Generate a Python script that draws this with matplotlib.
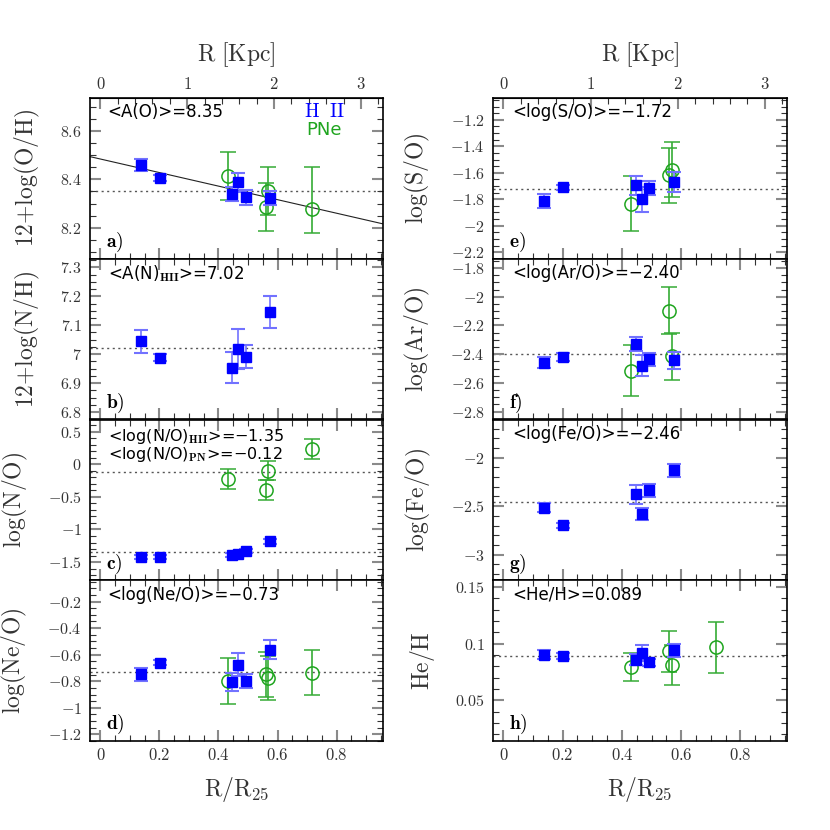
import numpy as np
import matplotlib
matplotlib.use('Agg')
import matplotlib.pyplot as plt
from matplotlib.ticker import MultipleLocator, FixedLocator, FuncFormatter

plt.rcParams['mathtext.fontset'] = 'cm'
plt.rcParams['font.family'] = ['DejaVu Sans']
plt.rcParams['axes.unicode_minus'] = False

# galactocentric distances (R/R25), R25 in kpc for top axis
R25_KPC = 3.4
hii_x = [0.136, 0.202, 0.446, 0.467, 0.493, 0.576]
pn_x = [0.432, 0.560, 0.569, 0.717]
kpc_ticks = [0, 1, 2, 3]

# a) 12+log(O/H)
oh_hii = [8.459, 8.405, 8.339, 8.388, 8.326, 8.322]
oh_hii_err = [0.025, 0.012, 0.03, 0.04, 0.03, 0.03]
oh_pn = [8.415, 8.285, 8.352, 8.277]
oh_pn_lo = [0.1, 0.1, 0.1, 0.1]
oh_pn_hi = [0.1, 0.1, 0.1, 0.175]
oh_fit = [8.484, -0.28]   # intercept, slope

# b) 12+log(N/H)
nh_hii = [7.045, 6.988, 6.953, 7.017, 6.991, 7.147]
nh_hii_err = [0.04, 0.012, 0.053, 0.07, 0.04, 0.055]

# c) log(N/O)
no_hii = [-1.417, -1.417, -1.386, -1.376, -1.335, -1.18]
no_hii_err = [0.03, 0.03, 0.03, 0.03, 0.03, 0.04]
no_pn = [-0.223, -0.393, -0.094, 0.235]
no_pn_err = [0.15, 0.15, 0.15, 0.155]

# d) log(Ne/O)
neo_hii = [-0.748, -0.66, -0.805, -0.675, -0.798, -0.563]
neo_hii_err = [0.05, 0.02, 0.065, 0.087, 0.05, 0.07]
neo_pn = [-0.798, -0.748, -0.775, -0.735]
neo_pn_err = [0.17, 0.17, 0.165, 0.168]

# e) log(S/O)
so_hii = [-1.811, -1.711, -1.696, -1.799, -1.716, -1.67]
so_hii_err = [0.053, 0.02, 0.075, 0.094, 0.05, 0.073]
so_pn = [-1.834, -1.62, -1.577, np.nan]
so_pn_err = [0.21, 0.205, 0.21, np.nan]

# f) log(Ar/O)
aro_hii = [-2.458, -2.419, -2.33, -2.481, -2.435, -2.442]
aro_hii_err = [0.04, 0.025, 0.05, 0.072, 0.046, 0.06]
aro_pn = [-2.516, -2.098, -2.416, np.nan]
aro_pn_err = [0.178, 0.164, 0.166, np.nan]

# g) log(Fe/O)
feo_hii = [-2.517, -2.696, -2.379, -2.579, -2.338, -2.131]
feo_hii_err = [0.048, 0.025, 0.1, 0.065, 0.064, 0.07]

# h) He/H
heh_hii = [0.0903, 0.089, 0.0858, 0.092, 0.0836, 0.094]
heh_hii_err = [0.004, 0.003, 0.005, 0.007, 0.003, 0.006]
heh_pn = [0.0794, 0.0932, 0.0812, 0.097]
heh_pn_err = [0.0125, 0.018, 0.018, 0.0225]

BLUE = '#0000ff'
LBLUE = '#7272ff'
GREEN = '#1fa51f'

fmt = FuncFormatter(lambda v, p: '$%g$' % round(v, 4))

#panel options: (column, row, ylabel, ylim, major, minor, hii, hii err, pn, pn err lo, pn err hi, means, text, letter)
panels = [
    (0, 0, r'$\mathrm{12{+}log(O/H)}$', (8.072, 8.736), 0.2, 0.05, oh_hii, oh_hii_err,
     oh_pn, oh_pn_lo, oh_pn_hi, [8.35], ['<A(O)>=8.35'], 'a)'),
    (0, 1, r'$\mathrm{12{+}log(N/H)}$', (6.774, 7.33), 0.1, 0.025, nh_hii, nh_hii_err,
     None, None, None, [7.02], [r'<A(N)$_{\mathbf{HII}}$>=7.02'], 'b)'),
    (0, 2, r'$\mathrm{log(N/O)}$', (-1.78, 0.69), 0.5, 0.1, no_hii, no_hii_err,
     no_pn, no_pn_err, no_pn_err, [-1.35, -0.12],
     [r'<log(N/O)$_{\mathbf{HII}}$>=−1.35', r'<log(N/O)$_{\mathbf{PN}}$>=−0.12'], 'c)'),
    (0, 3, r'$\mathrm{log(Ne/O)}$', (-1.25, -0.04), 0.2, 0.05, neo_hii, neo_hii_err,
     neo_pn, neo_pn_err, neo_pn_err, [-0.73], ['<log(Ne/O)>=−0.73'], 'd)'),
    (1, 0, r'$\mathrm{log(S/O)}$', (-2.25, -1.035), 0.2, 0.05, so_hii, so_hii_err,
     so_pn, so_pn_err, so_pn_err, [-1.72], ['<log(S/O)>=−1.72'], 'e)'),
    (1, 1, r'$\mathrm{log(Ar/O)}$', (-2.855, -1.735), 0.2, 0.05, aro_hii, aro_hii_err,
     aro_pn, aro_pn_err, aro_pn_err, [-2.40], ['<log(Ar/O)>=−2.40'], 'f)'),
    (1, 2, r'$\mathrm{log(Fe/O)}$', (-3.265, -1.605), 0.5, 0.1, feo_hii, feo_hii_err,
     None, None, None, [-2.46], ['<log(Fe/O)>=−2.46'], 'g)'),
    (1, 3, r'$\mathrm{He/H}$', (0.014, 0.156), 0.05, 0.01, heh_hii, heh_hii_err,
     heh_pn, heh_pn_err, heh_pn_err, [0.089], ['<He/H>=0.089'], 'h)'),
]

fig = plt.figure(figsize=(8.3, 8.3), dpi=100)
H = 160.75 / 830

for col, row, ylab, ylim, major, minor, yh, eh, yp, elo, ehi, means, texts, letter in panels:
    left = [90 / 830, 493 / 830][col]
    width = [293 / 830, 294 / 830][col]
    ax = fig.add_axes([left, 1 - (98 + (row + 1) * 160.75) / 830, width, H])

    ax.set_xlim(-0.035, 0.957)
    ax.set_ylim(*ylim)
    ax.xaxis.set_major_locator(MultipleLocator(0.2))
    ax.xaxis.set_minor_locator(MultipleLocator(0.05))
    ax.yaxis.set_major_locator(MultipleLocator(major))
    ax.yaxis.set_minor_locator(MultipleLocator(minor))
    ax.xaxis.set_major_formatter(fmt)
    ax.yaxis.set_major_formatter(fmt)
    ax.tick_params(which='both', direction='in', top=(row != 0), right=True)
    ax.tick_params(which='major', length=8, width=1.5, color='#8a8a8a', labelsize=12, labelcolor='#333333')
    ax.tick_params(which='minor', length=4, width=0.8, color='#333333')
    ax.tick_params(axis='y', which='major', labelsize=11.5, pad=6)
    for s in ax.spines.values():
        s.set_linewidth(1.2)
    if row != 3:
        ax.tick_params(labelbottom=False)
    else:
        ax.set_xlabel(r'$\mathrm{R/R_{25}}$', fontsize=17, color='#333333', labelpad=8)

    ax.set_ylabel(ylab, fontsize=17, color='#333333', labelpad=13)

    # mean value lines
    for m in means:
        ax.axhline(m, color='#555555', ls=(0, (1.5, 2.5)), lw=1, zorder=1)

    # O/H gradient
    if row == 0 and col == 0:
        xx = np.array(ax.get_xlim())
        ax.plot(xx, oh_fit[0] + oh_fit[1] * xx, color='#222222', lw=0.8, zorder=2)
        ax.text(0.80, 0.915, r'$\mathrm{H\ \ II}$', transform=ax.transAxes, color=BLUE,
                fontsize=14, ha='center', va='center')
        ax.text(0.80, 0.80, 'PNe', transform=ax.transAxes, color=GREEN,
                fontsize=13, ha='center', va='center')

    if yp is not None:
        ok = ~np.isnan(np.array(yp, dtype=float))
        ax.errorbar(np.array(pn_x)[ok], np.array(yp)[ok],
                    yerr=[np.array(elo)[ok], np.array(ehi)[ok]],
                    fmt='o', ms=9.5, mfc='none', mec=GREEN, mew=1.1, ecolor='#35ab35',
                    elinewidth=1.2, capsize=6, capthick=1.2, zorder=3)
    ax.errorbar(hii_x, yh, yerr=eh, fmt='s', ms=7.5, mfc=BLUE, mec=BLUE,
                ecolor=LBLUE, elinewidth=1.2, capsize=5, capthick=1.5, zorder=4)

    # mean value text
    if len(texts) == 1:
        ax.text(0.06 if col == 0 else 0.064, 0.91, texts[0], transform=ax.transAxes,
                fontsize=12, va='center', ha='left')
    else:
        ax.text(0.06, 0.955, texts[0] + '\n' + texts[1], transform=ax.transAxes,
                fontsize=11.5, va='top', ha='left', linespacing=0.95)
    ax.text(0.055, 0.10, r'$\mathbf{%s}$' % letter, transform=ax.transAxes,
            fontsize=14, va='center', ha='left')

    # top axis in kpc
    if row == 0:
        sec = ax.secondary_xaxis('top', functions=(lambda x: x * R25_KPC, lambda r: r / R25_KPC))
        sec.xaxis.set_major_locator(FixedLocator(kpc_ticks))
        sec.xaxis.set_minor_locator(FixedLocator(np.arange(0, 3.21, 0.2)))
        sec.xaxis.set_major_formatter(fmt)
        sec.tick_params(which='both', direction='in')
        sec.tick_params(which='major', length=8, width=1.5, color='#8a8a8a', labelsize=12, labelcolor='#333333')
        sec.tick_params(which='minor', length=4, width=0.8, color='#333333')
        sec.set_xlabel(r'$\mathrm{R\ [Kpc]}$', fontsize=17, color='#333333', labelpad=10)

fig.savefig('out.png', dpi=100)
